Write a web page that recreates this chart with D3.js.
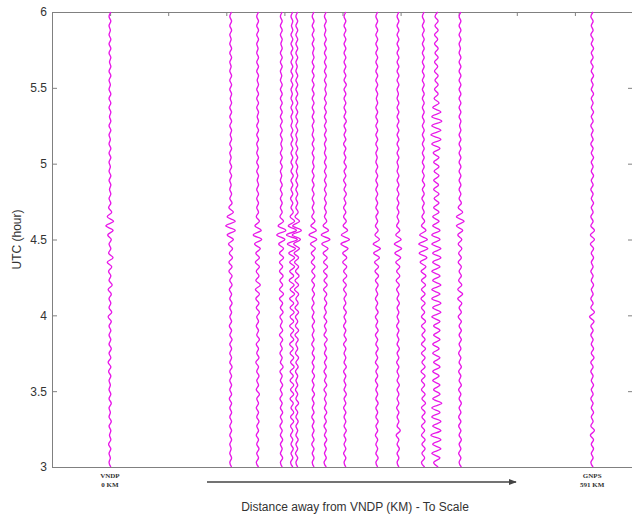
<!DOCTYPE html>
<html>
<head>
<meta charset="utf-8">
<script src="https://cdn.jsdelivr.net/npm/d3@7"></script>
<style>
  body { margin: 0; background: #fff; }
  svg { display: block; }
</style>
</head>
<body>
<script>
// Time axis (UTC hours) and sampling of every trace
const hourTicks = [3, 3.5, 4, 4.5, 5, 5.5, 6];
const startHour = 3;
const sampleStep = 0.03;

// Station distance from VNDP (km), one per trace
const stationKm = [0, 148, 181, 210, 223, 229, 249, 264, 288, 327, 353, 384, 400, 429, 591];

// Stations named under the axis
const labelNames = ["VNDP", "GNPS"];
const labelKm = [0, 591];

// Filtered amplitude of each station, samples from 3 h to 6 h
const tr000 = [1,-1,0.5,-1,1,-1.5,1,-0.5,1,-1, 1.5,-1,0.5,-1,1.5,-1,1,-1,0.5,-1, 1,-1.5,1,-2,1,-1,1.5,-1,1,-1, 1,-1,1.5,-2,2,-1,1,-1,1.5,-2, 2.5,-1,1,-1.5,2,-3,3.5,-1.5,1,-1, 1.5,-2.5,3.5,-4.5,4,-3,2,-1.5,1,-1, 1,-0.5,1,-1,1,-1,0.5,-1,1,-1, 1,-1,0.5,-1,1,-1,1,-0.5,1,-1, 1,-1,1,-1,0.5,-1,1,-1,1,-0.5, 1,-1,1,-1,1,-1,0.5,-1,1,-1,1];
const tr148 = [1,-1,1,-1,0.5,-1,1,-1,1,-1, 1,-1,1,-1,1,-1.5,1,-1,1,-1, 1,-1,1.5,-1,1,-1,1,-1,1.5,-1, 1,-1.5,1,-1,1,-1,1.5,-1,1,-1.5, 1.5,-1,1.5,-2,1.5,-2,2,-1.5,2,-2.5, 3,-4,5,-5.5,5,-4,3,-2,1.5,-1, 1,-1,0.5,-1,1,-1,1,-1,0.5,-1, 1,-1,1,-0.5,1,-1,1,-1,1,-1, 1,-0.5,1,-1,1,-1,1,-1,0.5,-1, 1,-1,1,-1,0.5,-1,1,-1,1,-1,1];
const tr181 = [1,-1.5,1,-1,1.5,-1,1,-1.5,1,-1, 1.5,-1,1,-1.5,1,-1,2,-1.5,1,-1, 1.5,-1,1,-2,1.5,-1,1,-1.5,2,-1, 1,-1.5,1,-1,2,-1.5,1.5,-2,2,-2.5, 3,-2,1.5,-1.5,2,-2.5,2,-2,3,-3.5, 4.5,-5,4,-3,2,-1.5,1,-1,1,-1, 1,-1,1,-0.5,1,-1,1,-1,1,-1, 0.5,-1,1,-1,1,-1,1,-0.5,1,-1, 1,-1,1,-1,1,-0.5,1,-1,1,-1, 1,-1,0.5,-1,1,-1,1,-1,1,-1,1];
const tr210 = [1,-1,1.5,-1,1,-1,1.5,-1,1,-1.5, 1,-1,1.5,-1,1,-1.5,1,-1,1.5,-1, 1,-1.5,2,-1,1,-1.5,1,-1,1.5,-2, 1.5,-1,1,-1.5,2,-1,1.5,-2,2.5,-2, 1.5,-1.5,2,-2,1.5,-2,2.5,-2,2.5,-3, 4,-5,5,-3.5,2.5,-1.5,1,-1,1,-1, 1,-1,1,-1,0.5,-1,1,-1,1,-1, 1,-0.5,1,-1,1,-1,1,-1,1,-1, 1,-1,1,-1,1,-1,0.5,-1,1,-1, 1,-1,1,-0.5,1,-1,1,-1,1,-1,1];
const tr223 = [1,-1.5,1,-1,1.5,-1,1,-1.5,1,-1.5, 2,-1.5,2,-1,1.5,-2,2,-1.5,2,-2, 1.5,-2,2.5,-1.5,2,-2,1.5,-2.5,2,-1.5, 2,-2.5,2,-2,2.5,-2,2,-2.5,3,-2, 2.5,-3,2,-2.5,3,-2.5,3,-3.5,4,-5, 6,-6,5,-4,3,-2,1.5,-1,1,-1.5, 1,-1,1,-1,1.5,-1,1,-1,1,-1, 1,-1,1,-1,1,-1,0.5,-1,1,-1, 1,-1,0.5,-1,1,-1,1,-1,1,-1, 1,-1,1,-1,1,-1,1,-0.5,1,-1,1];
const tr229 = [1,-1,1,-1.5,1,-1,1.5,-1,1,-1, 1.5,-1,1,-1.5,2,-1,1,-1.5,1,-1, 1,-1.5,1.5,-1,2,-1.5,1,-1,1.5,-2, 2,-1.5,1,-1.5,2,-2,1.5,-1,2,-2.5, 2,-2,2.5,-1.5,2,-2.5,2,-3,3,-3.5, 4,-5,5,-4.5,3,-2,1.5,-1,1,-1, 1,-1,1,-1,1,-0.5,1,-1,1,-1, 1,-1,0.5,-1,1,-1,1,-1,1,-1, 1,-1,1,-1,1,-1,1,-1,0.5,-1, 1,-1,1,-1,1,-1,1,-1,1,-1,1];
const tr249 = [1,-1,1,-1,1,-1.5,1,-1,1,-1, 1,-1.5,1,-1,1,-1,1.5,-1,1,-1, 1.5,-1,1,-1,1.5,-1,1,-1.5,1,-1, 1,-1,1.5,-1,1,-1.5,1,-1,1.5,-1, 1.5,-1.5,2,-1.5,2,-2,1.5,-2,2.5,-3, 4,-4.5,3.5,-2.5,2,-1.5,1,-1,1,-1, 1,-1,1,-1,1,-1,1,-0.5,1,-1, 1,-1,1,-1,0.5,-1,1,-1,1,-1, 1,-1,1,-1,1,-1,1,-1,1,-1, 1,-0.5,1,-1,1,-1,1,-1,1,-1,1];
const tr264 = [1,-1.5,1,-1,1,-1,1.5,-1,1,-1.5, 1,-1,1.5,-1,1,-1,1,-1.5,1.5,-1, 1,-1.5,1,-1,1.5,-1,1,-1,2,-1.5, 1,-1,1.5,-1.5,1,-1,1.5,-1,1.5,-2, 2,-1.5,2,-2,2.5,-2,2,-2.5,3,-4, 5,-4.5,3.5,-2.5,1.5,-1,1,-1,1,-1, 1,-1,1,-1,1,-1,1,-1,1,-1, 0.5,-1,1,-1,1,-1,1,-1,1,-1, 1,-1,1,-0.5,1,-1,1,-1,1,-1, 1,-1,1,-1,1,-1,0.5,-1,1,-1,1];
const tr288 = [1,-1,1,-1.5,1,-1,1,-1,1.5,-1, 1,-1,1,-1.5,1,-1,1.5,-1,1,-1, 1,-1.5,1.5,-1,1,-1,1,-1.5,1.5,-1, 1,-1.5,1,-1,1.5,-1.5,1,-1,1.5,-1.5, 1.5,-2,2,-1.5,2,-2.5,2,-2.5,3.5,-4.5, 5,-4,3,-2,1.5,-1.5,1,-1.5,1,-1, 1.5,-1,1,-1.5,1,-1,1.5,-1,1,-1, 1,-1.5,1,-1,1,-1,1.5,-1,1,-1, 1,-1,1,-1,1.5,-1,1,-1,1,-1, 1,-1,1,-1,1,-1,1,-1,1,-1,1];
const tr327 = [1,-1,1.5,-1,1,-1,1,-1.5,1,-1, 1.5,-1,1,-1,1.5,-1,1,-1,1,-1.5, 1,-1,1.5,-1.5,1,-1,1.5,-1,1,-1.5, 1.5,-1,1,-1.5,1.5,-1,1,-1.5,1,-1, 1.5,-1.5,2,-2,2,-2.5,3,-3.5,4,-4, 3,-2,1.5,-1.5,1,-1,1.5,-1,1,-1, 1,-1,1,-1,1,-1,1,-1,0.5,-1, 1,-1,1,-1,1,-1,1,-1,1,-1, 1,-0.5,1,-1,1,-1,1,-1,1,-1, 1,-1,1,-1,1,-1,1,-1,1,-1,1];
const tr353 = [1,-1,1,-1,1.5,-1,1,-2,2.5,-1, 1,-1,1,-1.5,1,-1,1,-1,1.5,-1, 1,-1,1,-1.5,1,-1,1.5,-1,1,-1, 1,-1.5,1,-1,1,-1,1.5,-1,1,-1.5, 1.5,-2,2,-1.5,2,-2.5,3,-3.5,4,-4, 3.5,-2.5,2,-1.5,1,-1,1,-1,1,-1, 1,-1,1,-1,1,-1,0.5,-1,1,-1, 1,-1,1,-1,1,-1,1,-1,1,-1, 1,-1,0.5,-1,1,-1,1,-1,1,-1, 1,-1,1,-1,1,-1,1,-1,1,-1,1];
const tr384 = [1.5,-2,1.5,-1.5,2,-1.5,2,-2,1.5,-2, 2,-1.5,2,-2,2.5,-1.5,2,-2,1.5,-2, 2,-2.5,2,-1.5,2,-2,2.5,-2,2,-1.5, 2,-2,2.5,-2,1.5,-2,2,-2.5,2,-2, 2.5,-2,3,-2.5,3,-3.5,4,-4.5,5,-5, 4.5,-4,3,-2,1.5,-1.5,1,-1,1,-1.5, 1,-1,1.5,-1,1,-1,1,-1,1,-1, 1,-1,1,-1,1,-1,1,-1,1,-1, 1,-1,1,-1,1,-1,1,-1,1,-1, 1,-1,1,-1,1,-1,1,-1,1,-1,1];
const tr400 = [2,-3,4,-5,5,-4,5,-6,5,-4, 5,-5,4,-5,6,-4,4,-3,4,-4, 3,-4,4,-3,4,-4,3,-4,4,-3, 4,-3,4,-5,5,-4,5,-5,4,-5, 5,-4,4,-5,4,-4,5,-4,5,-5, 4,-5,4,-4,3,-4,3,-3,3,-2.5, 3,-3,2.5,-3,3,-2.5,3,-3,3,-3.5, 4,-5,5,-6,5,-5,6,-5,5,-4, 3,-2.5,2,-2,2,-1.5,2,-2,1.5,-2, 2,-1.5,2,-2,1.5,-2,2,-1.5,2,-1.5,1.5];
const tr429 = [1.5,-1,1,-1.5,1,-1,1.5,-1,1,-1.5, 1,-1.5,1,-1,1.5,-1,1,-1.5,1.5,-1, 1,-1.5,1.5,-1,1,-1.5,1,-1,1.5,-1, 1.5,-1,1.5,-2,1.5,-1,2,-2.5,3,-2.5, 2,-1.5,1.5,-1,1.5,-2,1.5,-1.5,2,-2, 2,-2.5,3,-4,4.5,-4,3,-2,1.5,-1, 1,-1,1,-1,1,-1,1,-1,1,-1, 1,-1,1,-1,1,-0.5,1,-1,1,-1, 1,-1,1,-1,1,-1,1,-1,1,-1, 1,-1,0.5,-1,1,-1,1,-1,1,-1,1];
const tr591 = [1,-1.5,1,-1,1.5,-1,1.5,-2,2.5,-1.5, 1,-1,1.5,-1,1,-1.5,1,-1,1.5,-1, 1,-1.5,1,-1.5,2,-1,1.5,-1,1,-1.5, 1,-1.5,2,-3,2.5,-1.5,1,-1.5,1,-1, 1.5,-1,1,-1.5,1,-1,1.5,-1,1.5,-2, 2.5,-2,2.5,-1.5,1,-1.5,1,-1,1.5,-1, 1,-1.5,1,-1,1.5,-1,1,-1,1.5,-1, 1,-1.5,1,-1,1,-1.5,1,-1,1.5,-1, 1,-1,1.5,-1,1,-1,1.5,-1,1,-1.5, 1,-1,1.5,-1,1,-1.5,1,-1,1,-1.5,1];

const traces = [tr000, tr148, tr181, tr210, tr223, tr229, tr249, tr264, tr288, tr327, tr353, tr384, tr400, tr429, tr591];

const W = 632, H = 521;
const margin = { left: 52, top: 12, right: -1, bottom: 54 };
const plotRight = W - margin.right;
const plotBottom = H - margin.bottom;

const svg = d3.select("body").append("svg")
  .attr("width", W).attr("height", H)
  .style("font-family", "'Liberation Sans', Arial, sans-serif");

const x = d3.scaleLinear().domain([-71, 641]).range([margin.left, plotRight]);
const y = d3.scaleLinear().domain([3, 6]).range([plotBottom, margin.top]);
const amp = d3.scaleLinear().domain([0, 1]).range([0, 0.9]);

const axisColor = "#808080";
const textColor = "#333";

// Box frame with inward ticks
const xTickValues = d3.range(1, 10).map(k => x.invert(margin.left + k * (plotRight - margin.left) / 10));

const topAxis = svg.append("g").attr("transform", `translate(0,${margin.top})`)
  .call(d3.axisTop(x).tickValues(xTickValues).tickSizeInner(-4).tickSizeOuter(0).tickFormat(""));
const bottomAxis = svg.append("g").attr("transform", `translate(0,${plotBottom})`)
  .call(d3.axisBottom(x).tickValues([]).tickSizeOuter(0));
const leftAxis = svg.append("g").attr("transform", `translate(${margin.left},0)`)
  .call(d3.axisLeft(y).tickValues(hourTicks).tickSizeInner(-5).tickSizeOuter(0).tickPadding(5).tickFormat(d3.format("")));
const rightAxis = svg.append("g").attr("transform", `translate(${plotRight},0)`)
  .call(d3.axisRight(y).tickValues(hourTicks).tickSizeInner(-5).tickSizeOuter(0).tickFormat(""));

[topAxis, bottomAxis, leftAxis, rightAxis].forEach(g => {
  g.selectAll("path.domain").attr("stroke", axisColor).attr("stroke-width", 1);
  g.selectAll(".tick line").attr("stroke", axisColor);
});
leftAxis.selectAll(".tick text")
  .attr("fill", textColor).style("font-size", "12px");

// Seismogram traces
const line = d3.line()
  .x(d => x(d.km) + amp(d.v))
  .y(d => y(d.t))
  .curve(d3.curveCatmullRom);

svg.append("g").selectAll("path")
  .data(traces.map((vals, k) => vals.map((v, i) => ({ km: stationKm[k], t: startHour + i * sampleStep, v }))))
  .join("path")
  .attr("d", line)
  .attr("fill", "none")
  .attr("stroke", "#e818e8")
  .attr("stroke-width", 1.35);

// Station labels beneath the axis
const lab = svg.append("g").selectAll("text")
  .data(labelNames.map((n, i) => ({ name: n, km: labelKm[i] })))
  .join("text")
  .attr("x", d => x(d.km))
  .attr("y", plotBottom + 11)
  .attr("text-anchor", "middle")
  .attr("fill", textColor)
  .style("font-family", "'Liberation Serif', 'Times New Roman', serif")
  .style("font-size", "7px")
  .style("font-weight", "bold");
lab.append("tspan").attr("x", d => x(d.km)).text(d => d.name);
lab.append("tspan").attr("x", d => x(d.km)).attr("dy", 9).text(d => `${d.km} KM`);

// Direction arrow
svg.append("defs").append("marker")
  .attr("id", "head").attr("viewBox", "0 0 10 10")
  .attr("refX", 9).attr("refY", 5)
  .attr("markerWidth", 8).attr("markerHeight", 8)
  .attr("markerUnits", "userSpaceOnUse")
  .attr("orient", "auto")
  .append("path").attr("d", "M0,1 L10,5 L0,9 Z").attr("fill", "#444");

svg.append("line")
  .attr("x1", 207).attr("x2", 516)
  .attr("y1", 482).attr("y2", 482)
  .attr("stroke", "#444").attr("stroke-width", 1.3)
  .attr("marker-end", "url(#head)");

// Axis titles
svg.append("text")
  .attr("x", 355).attr("y", 511)
  .attr("text-anchor", "middle")
  .attr("fill", textColor)
  .style("font-size", "12px")
  .text("Distance away from VNDP (KM) - To Scale");

svg.append("text")
  .attr("transform", `translate(21,${(margin.top + plotBottom) / 2}) rotate(-90)`)
  .attr("text-anchor", "middle")
  .attr("fill", textColor)
  .style("font-size", "12px")
  .text("UTC (hour)");
</script>
</body>
</html>
